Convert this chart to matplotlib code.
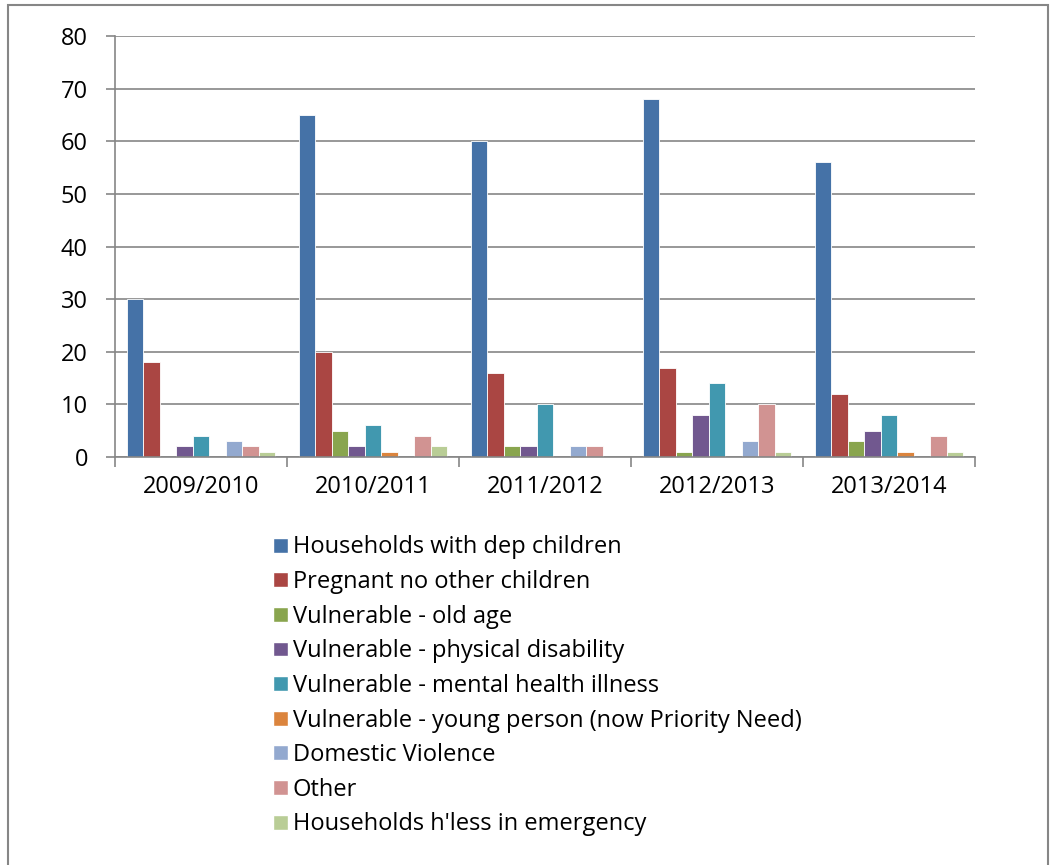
import matplotlib
matplotlib.use("Agg")
import matplotlib.pyplot as plt
from matplotlib.patches import Patch, Rectangle
import numpy as np

years = ["2009/2010", "2010/2011", "2011/2012", "2012/2013", "2013/2014"]
series_names = [
    "Households with dep children",
    "Pregnant no other children",
    "Vulnerable - old age",
    "Vulnerable - physical disability",
    "Vulnerable - mental health illness",
    "Vulnerable - young person (now Priority Need)",
    "Domestic Violence",
    "Other",
    "Households h'less in emergency",
]
dep_children = [30, 65, 60, 68, 56]
pregnant = [18, 20, 16, 17, 12]
old_age = [0, 5, 2, 1, 3]
physical = [2, 2, 2, 8, 5]
mental = [4, 6, 10, 14, 8]
young = [0, 1, 0, 0, 1]
domestic = [3, 0, 2, 3, 0]
other = [2, 4, 2, 10, 4]
emergency = [1, 2, 0, 1, 1]
values = [dep_children, pregnant, old_age, physical, mental, young, domestic, other, emergency]
colors = ["#4572A7", "#AA4643", "#89A54E", "#71588F", "#4198AF",
          "#DB843D", "#93A9CF", "#D19392", "#B9CD96"]

plt.rcParams['font.family'] = ['Open Sans', 'DejaVu Sans']
FS = 17
W, H = 1051, 865
fig = plt.figure(figsize=(W/100, H/100), dpi=100)
fig.patches.append(Rectangle((8/W, -0.1), (1048-8)/W, 1 - 5/H + 0.1,
                             transform=fig.transFigure, fill=False,
                             edgecolor="#868686", linewidth=1.5))

ax = fig.add_axes([115/W, 1-457/H, (975-115)/W, (457-36)/H])
ax.set_axisbelow(True)
n = len(series_names)
bw = 0.86 / n
x = np.arange(len(years))
for i, (name, vals, c) in enumerate(zip(series_names, values, colors)):
    ax.bar(x - 0.43 + bw*(i+0.5), vals, width=bw, color=c, edgecolor="white",
           linewidth=0.6, label=name, zorder=1)

ax.set_xlim(-0.5, len(years)-0.5)
ax.set_ylim(0, 80)
ax.set_yticks(range(0, 81, 10))
ax.yaxis.grid(True, color="#868686", linewidth=1.2)
for s in ["top", "right"]:
    ax.spines[s].set_visible(False)
for s in ["left", "bottom"]:
    ax.spines[s].set_color("#868686")
    ax.spines[s].set_linewidth(1.2)
    ax.spines[s].set_zorder(3)
ax.set_xticks(x)
ax.set_xticklabels(years, fontsize=FS)
ax.tick_params(axis='x', length=0, pad=13)
ax.set_xticks(np.arange(-0.5, len(years), 1), minor=True)
ax.tick_params(axis='x', which='minor', length=7, color="#868686", width=1.2)
ax.tick_params(axis='y', length=6.5, color="#868686", width=1.2, labelsize=FS, pad=13)

handles = [Patch(facecolor=c, edgecolor="white") for c in colors]
fig.legend(handles, series_names, loc="upper left",
           bbox_to_anchor=(264/W, 1-526/H), frameon=False, fontsize=FS,
           handlelength=0.6, handleheight=0.6, handletextpad=0.22,
           labelspacing=0.45, borderaxespad=0)

fig.savefig("out.png", dpi=100)
